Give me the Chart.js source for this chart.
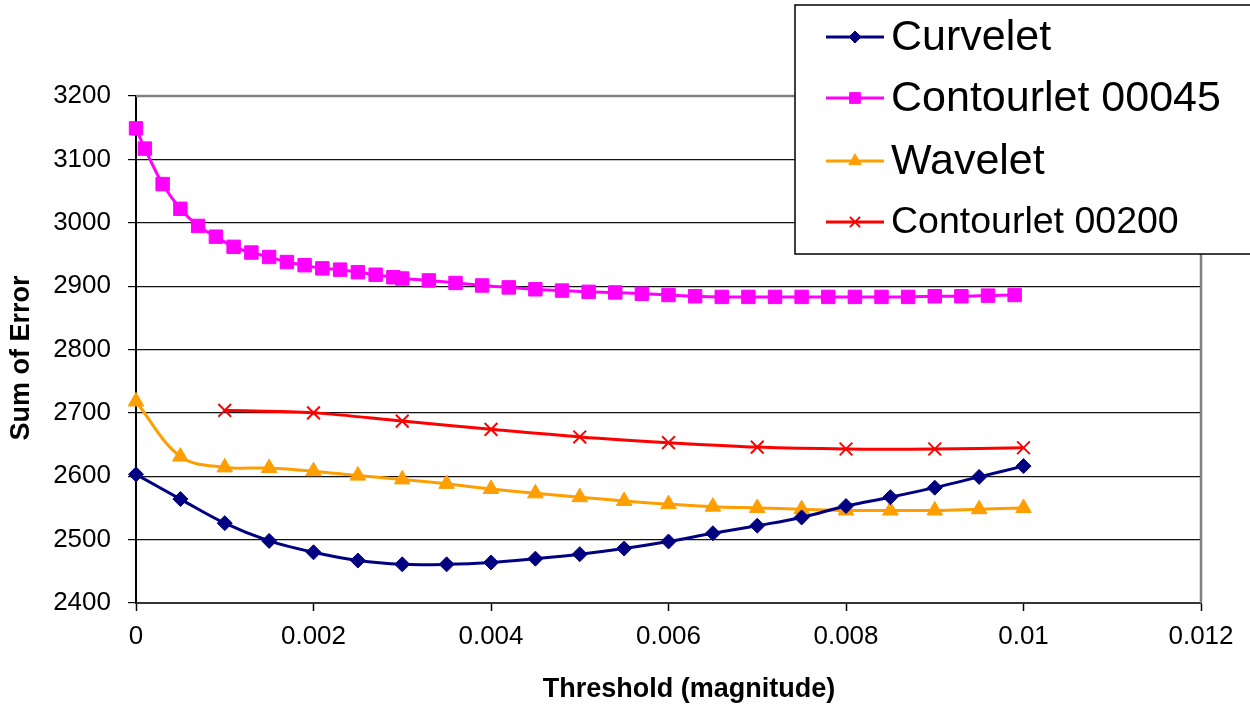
<!DOCTYPE html>
<html>
<head>
<meta charset="utf-8">
<title>Sum of Error vs Threshold</title>
<script src="https://cdn.jsdelivr.net/npm/chart.js@4.4.1/dist/chart.umd.min.js"></script>
<style>
  html, body { margin: 0; padding: 0; background: #fff; }
  #chart { display: block; }
</style>
</head>
<body>
<canvas id="chart" width="1250" height="708"></canvas>
<script>
// valores
const seriesNames = ['Curvelet', 'Contourlet 00045', 'Wavelet', 'Contourlet 00200'];

const thresholds = [0, 0.0005, 0.001, 0.0015, 0.002, 0.0025, 0.003, 0.0035, 0.004, 0.0045, 0.005,
  0.0055, 0.006, 0.0065, 0.007, 0.0075, 0.008, 0.0085, 0.009, 0.0095, 0.01];
const curvelet = [2603, 2564, 2526, 2498, 2480, 2467, 2461, 2461, 2464, 2470, 2477,
  2486, 2497, 2510, 2522, 2535, 2553, 2567, 2582, 2599, 2616];
const wavelet = [2718, 2631, 2614, 2613, 2608, 2601, 2595, 2588, 2580, 2573, 2567,
  2561, 2556, 2552, 2550, 2548, 2546, 2546, 2546, 2548, 2550];

const thresholds00045 = [0, 0.0001, 0.0003, 0.0005, 0.0007, 0.0009, 0.0011, 0.0013, 0.0015, 0.0017,
  0.0019, 0.0021, 0.0023, 0.0025, 0.0027, 0.0029, 0.003, 0.0033, 0.0036, 0.0039,
  0.0042, 0.0045, 0.0048, 0.0051, 0.0054, 0.0057, 0.006, 0.0063, 0.0066, 0.0069,
  0.0072, 0.0075, 0.0078, 0.0081, 0.0084, 0.0087, 0.009, 0.0093, 0.0096, 0.0099];
const contourlet00045 = [3149, 3117, 3061, 3022, 2995, 2978, 2962, 2953, 2946, 2938,
  2933, 2928, 2926, 2922, 2918, 2914, 2912, 2909, 2905, 2901,
  2898, 2895, 2893, 2891, 2890, 2888, 2886, 2884, 2883, 2883,
  2883, 2883, 2883, 2883, 2883, 2883, 2884, 2884, 2885, 2886];

const thresholds00200 = [0.001, 0.002, 0.003, 0.004, 0.005, 0.006, 0.007, 0.008, 0.009, 0.01];
const contourlet00200 = [2704, 2700, 2687, 2674, 2662, 2653, 2646, 2643, 2643, 2645];

const xTickLabels = ['0', '0.002', '0.004', '0.006', '0.008', '0.01', '0.012'];
const yTickLabels = ['2400', '2500', '2600', '2700', '2800', '2900', '3000', '3100', '3200'];

const FONT = '"Liberation Sans", Arial, sans-serif';
const pairs = (xs, ys) => xs.map((x, i) => ({ x: x, y: ys[i] }));

// leyenda, marco del área y títulos de ejes dibujados a mano
const decor = {
  id: 'decor',
  beforeDatasetsDraw(chart) {
    const { ctx, chartArea: a } = chart;
    ctx.save();
    ctx.strokeStyle = '#808080';
    ctx.lineWidth = 2.5;
    ctx.beginPath();
    ctx.moveTo(a.left, a.top);
    ctx.lineTo(a.right, a.top);
    ctx.lineTo(a.right, a.bottom);
    ctx.stroke();
    ctx.restore();
  },
  afterDraw(chart) {
    const ctx = chart.ctx;
    ctx.save();
    // títulos
    ctx.fillStyle = '#000';
    ctx.font = 'bold 27px ' + FONT;
    ctx.textAlign = 'center';
    ctx.textBaseline = 'middle';
    ctx.fillText('Threshold (magnitude)', 689, 690);
    ctx.save();
    ctx.translate(22, 358);
    ctx.rotate(-Math.PI / 2);
    ctx.fillText('Sum of Error', 0, 0);
    ctx.restore();

    // caja de leyenda
    ctx.fillStyle = '#fff';
    ctx.fillRect(795, 5, 470, 249);
    ctx.strokeStyle = '#000';
    ctx.lineWidth = 1.5;
    ctx.strokeRect(795, 5, 470, 249);

    const rowY = [37, 98, 161, 222];
    const sizes = [43, 43, 43, 37.5];
    chart.data.datasets.forEach((ds, i) => {
      const y = rowY[i];
      ctx.strokeStyle = ds.borderColor;
      ctx.lineWidth = 3;
      ctx.beginPath();
      ctx.moveTo(826, y);
      ctx.lineTo(884, y);
      ctx.stroke();
      ctx.fillStyle = ds.pointBackgroundColor;
      ctx.strokeStyle = ds.pointBorderColor;
      ctx.lineWidth = ds.pointBorderWidth;
      Chart.helpers.drawPoint(ctx, {
        pointStyle: ds.pointStyle,
        radius: ds.pointRadius * 0.8,
        rotation: 0,
        borderWidth: ds.pointBorderWidth
      }, 855, y);
      ctx.fillStyle = '#000';
      ctx.font = sizes[i] + 'px ' + FONT;
      ctx.textAlign = 'left';
      ctx.textBaseline = 'middle';
      ctx.fillText(ds.label, 891, y + 1);
    });
    ctx.restore();
  }
};

const ctx = document.getElementById('chart').getContext('2d');
new Chart(ctx, {
  type: 'line',
  data: {
    datasets: [
      {
        label: seriesNames[0],
        data: pairs(thresholds, curvelet),
        borderColor: '#000080',
        pointBackgroundColor: '#000080',
        pointBorderColor: '#000080',
        pointBorderWidth: 1,
        pointStyle: 'rectRot',
        pointRadius: 7.5,
        borderWidth: 3,
        clip: false
      },
      {
        label: seriesNames[1],
        data: pairs(thresholds00045, contourlet00045),
        borderColor: '#FF00FF',
        pointBackgroundColor: '#FF00FF',
        pointBorderColor: '#FF00FF',
        pointBorderWidth: 1,
        pointStyle: 'rect',
        pointRadius: 9.5,
        borderWidth: 3,
        clip: false
      },
      {
        label: seriesNames[2],
        data: pairs(thresholds, wavelet),
        borderColor: '#FF9E00',
        pointBackgroundColor: '#FF9E00',
        pointBorderColor: '#FF9E00',
        pointBorderWidth: 1,
        pointStyle: 'triangle',
        pointRadius: 9,
        borderWidth: 3,
        clip: false
      },
      {
        label: seriesNames[3],
        data: pairs(thresholds00200, contourlet00200),
        borderColor: '#FF0000',
        pointBackgroundColor: '#FF0000',
        pointBorderColor: '#FF0000',
        pointBorderWidth: 2,
        pointStyle: 'crossRot',
        pointRadius: 9,
        borderWidth: 3,
        clip: false
      }
    ]
  },
  options: {
    responsive: false,
    animation: false,
    elements: { line: { tension: 0.35 } },
    layout: { padding: { top: 96, right: 49, left: 0, bottom: 0 } },
    plugins: {
      legend: { display: false },
      tooltip: { enabled: false }
    },
    scales: {
      x: {
        type: 'linear',
        min: 0,
        max: 0.012,
        afterFit: s => { s.height = 105; },
        ticks: {
          stepSize: 0.002,
          color: '#000',
          padding: 10,
          maxRotation: 0,
          font: { family: FONT, size: 26 },
          callback: (v, i) => xTickLabels[i]
        },
        grid: { drawOnChartArea: false, drawTicks: true, tickLength: 8, tickColor: '#000', tickWidth: 1.5 },
        border: { color: '#333', width: 2 }
      },
      y: {
        min: 2400,
        max: 3200,
        afterFit: s => { s.width = 136; },
        ticks: {
          stepSize: 100,
          color: '#000',
          padding: 17,
          font: { family: FONT, size: 26 },
          callback: (v, i) => yTickLabels[i]
        },
        grid: { color: '#111', lineWidth: 1.2, drawTicks: true, tickLength: 8, tickColor: '#000' },
        border: { color: '#000', width: 2 }
      }
    }
  },
  plugins: [decor]
});
</script>
</body>
</html>
